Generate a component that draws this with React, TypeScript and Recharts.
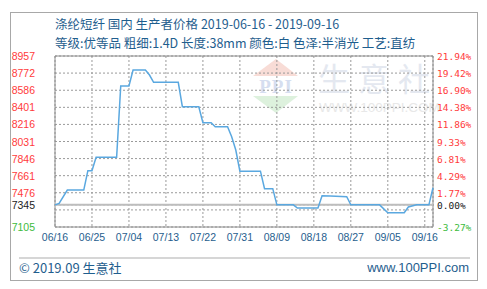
import React from 'react';
import {
  LineChart,
  Line,
  XAxis,
  YAxis,
  CartesianGrid,
  ReferenceLine,
  ReferenceArea
} from 'recharts';

// price series (yuan/ton)
const dates = [
  '2019-06-16', '2019-06-17', '2019-06-19', '2019-06-23', '2019-06-24', '2019-06-25',
  '2019-06-26', '2019-07-01', '2019-07-02', '2019-07-04', '2019-07-05', '2019-07-08',
  '2019-07-09', '2019-07-10', '2019-07-16', '2019-07-17', '2019-07-21', '2019-07-22',
  '2019-07-24', '2019-07-25', '2019-07-28', '2019-07-29', '2019-07-30', '2019-07-31',
  '2019-08-05', '2019-08-06', '2019-08-08', '2019-08-09', '2019-08-13', '2019-08-14',
  '2019-08-19', '2019-08-20', '2019-08-22', '2019-08-26', '2019-08-27', '2019-09-03',
  '2019-09-05', '2019-09-09', '2019-09-10', '2019-09-12', '2019-09-15', '2019-09-16'
];
const prices = [
  7345, 7360, 7505, 7505, 7715, 7715,
  7860, 7860, 8632, 8632, 8805, 8805,
  8751, 8672, 8672, 8408, 8408, 8235,
  8235, 8191, 8191, 8083, 7939, 7710,
  7710, 7520, 7520, 7345, 7345, 7311,
  7311, 7444, 7440, 7433, 7345, 7345,
  7260, 7260, 7322, 7345, 7345, 7530
];

const basePrice = 7345;
const minPrice = 7105;
const maxPrice = 8957;

const leftTicks = [7105, 7345, 7476, 7661, 7846, 8031, 8216, 8401, 8586, 8772, 8957];
const leftLabels = ['7105', '7345', '7476', '7661', '7846', '8031', '8216', '8401', '8586', '8772', '8957'];
const rightLabels = ['-3.27%', '0.00%', '1.77%', '4.29%', '6.81%', '9.33%', '11.86%', '14.38%', '16.90%', '19.42%', '21.94%'];
// extra dotted line below the base price (no label there)
const extraGridPrice = 7290;

const xTickDates = [
  '2019-06-16', '2019-06-25', '2019-07-04', '2019-07-13', '2019-07-22', '2019-07-31',
  '2019-08-09', '2019-08-18', '2019-08-27', '2019-09-05', '2019-09-14'
];
const xTickLabels = ['06/16', '06/25', '07/04', '07/13', '07/22', '07/31', '08/09', '08/18', '08/27', '09/05', '09/16'];

const startDate = '2019-06-16';
const endDate = '2019-09-16';

function dayIndex(d: string): number {
  const [y, m, day] = d.split('-').map(Number);
  const [y0, m0, d0] = startDate.split('-').map(Number);
  return Math.round((Date.UTC(y, m - 1, day) - Date.UTC(y0, m0 - 1, d0)) / 86400000);
}

const data = dates.map((d, i) => ({ day: dayIndex(d), price: prices[i] }));
const xTicks = xTickDates.map(dayIndex);
const lastDay = dayIndex(endDate);

const BLUE = '#1f5e8e';
const GRID = '#9a9a9a';

function tickColor(v: number) {
  if (v === basePrice) return '#222';
  return v > basePrice ? '#ff3b3b' : '#3dbb3d';
}

const LeftTick = (props: any) => {
  const { x, y, payload } = props;
  const i = leftTicks.indexOf(payload.value);
  return (
    <text x={x} y={y} dy={4} textAnchor="end" fill={tickColor(payload.value)}
      fontSize={10.5} fontFamily="Liberation Sans, Arial, sans-serif">
      {leftLabels[i]}
    </text>
  );
};

const RightTick = (props: any) => {
  const { x, y, payload } = props;
  const i = leftTicks.indexOf(payload.value);
  return (
    <text x={x} y={y} dy={4} textAnchor="start" fill={tickColor(payload.value)}
      fontSize={9.5} fontFamily="DejaVu Sans Mono, monospace">
      {rightLabels[i]}
    </text>
  );
};

const BottomTick = (props: any) => {
  const { x, y, payload } = props;
  const i = xTicks.indexOf(payload.value);
  return (
    <text x={x} y={y} dy={8} textAnchor="middle" fill={BLUE}
      fontSize={10.5} fontFamily="Liberation Sans, Arial, sans-serif">
      {xTickLabels[i]}
    </text>
  );
};

function Watermark() {
  return (
    <svg width={487} height={289} style={{ position: 'absolute', left: 0, top: 0 }}>
      <polygon points="253,76 276,59 298,76" fill="#f8dcd6" />
      <text x={276} y={93} textAnchor="middle" fontSize={19} fontWeight="bold"
        fontFamily="Liberation Serif, serif" fill="#d6def0" letterSpacing={1}>PPI</text>
      <polygon points="253,96 298,96 276,113" fill="#ddf1dd" />
      <text x={318} y={91} fontSize={32} fontFamily="Noto Sans CJK SC" fill="#e4e8f0" letterSpacing={8}>
        生意社
      </text>
      <text x={319} y={112} fontSize={13.5} fontFamily="Liberation Sans, Arial" fill="#e8e8e8">
        WWW.100PPI.COM
      </text>
    </svg>
  );
}

export default function App() {
  return (
    <div style={{
      position: 'absolute', left: 0, top: 0, width: 487, height: 289,
      background: '#fff', fontFamily: 'Noto Sans CJK SC, sans-serif'
    }}>
      <div style={{
        position: 'absolute', left: 10, top: 12, width: 466, height: 267,
        border: '1px solid #a8a8a8'
      }} />
      <Watermark />
      <div style={{ position: 'absolute', left: 55, top: 15, fontSize: 12.5, color: BLUE, whiteSpace: 'nowrap', lineHeight: '18px' }}>
        涤纶短纤 国内 生产者价格 2019-06-16 - 2019-09-16
      </div>
      <div style={{ position: 'absolute', left: 55, top: 34, fontSize: 12.5, color: BLUE, whiteSpace: 'nowrap', lineHeight: '18px' }}>
        等级:优等品 粗细:1.4D 长度:38mm 颜色:白 色泽:半消光 工艺:直纺
      </div>
      <div style={{ position: 'absolute', left: 0, top: 0 }}>
        <LineChart width={487} height={289} data={data}
          margin={{ top: 56, left: 10, right: 10, bottom: 42 }}>
          <CartesianGrid yAxisId="left" stroke={GRID} strokeDasharray="2 2" />
          <XAxis dataKey="day" type="number" domain={[0, lastDay]} ticks={xTicks}
            axisLine={false} tickLine={false} tickSize={0} tickMargin={6}
            height={20} tick={<BottomTick />} interval={0} />
          <YAxis yAxisId="left" domain={[minPrice, maxPrice]} ticks={leftTicks}
            axisLine={false} tickLine={false} tickSize={0} tickMargin={20}
            width={45} tick={<LeftTick />} interval={0} />
          <YAxis yAxisId="right" orientation="right" domain={[minPrice, maxPrice]} ticks={leftTicks}
            axisLine={false} tickLine={false} tickSize={0} tickMargin={4}
            width={44} tick={<RightTick />} interval={0} />
          <ReferenceLine yAxisId="left" y={extraGridPrice} stroke={GRID} strokeDasharray="2 2" />
          <ReferenceArea yAxisId="left" x1={0} x2={lastDay} y1={minPrice} y2={maxPrice}
            fill="none" stroke="#8a8a8a" strokeWidth={1} ifOverflow="visible" />
          <ReferenceLine yAxisId="left" y={basePrice} stroke="#bdbdbd" strokeWidth={2} />
          <Line yAxisId="right" type="linear" dataKey="price" stroke="none"
            dot={false} activeDot={false} isAnimationActive={false} />
          <Line yAxisId="left" type="linear" dataKey="price" stroke="#5aa8e0"
            strokeWidth={1.5} dot={false} isAnimationActive={false} />
        </LineChart>
      </div>
      <div style={{ position: 'absolute', left: 19, top: 257, width: 451, height: 2, background: '#d6d6d6' }} />
      <div style={{ position: 'absolute', left: 19, top: 259, fontSize: 13, color: BLUE, lineHeight: '18px', whiteSpace: 'nowrap' }}>
        © 2019.09 生意社
      </div>
      <div style={{ position: 'absolute', right: 18, top: 259, fontSize: 13, color: BLUE, lineHeight: '18px', whiteSpace: 'nowrap', fontFamily: 'Liberation Sans, Arial, sans-serif' }}>
        www.100PPI.com
      </div>
    </div>
  );
}
